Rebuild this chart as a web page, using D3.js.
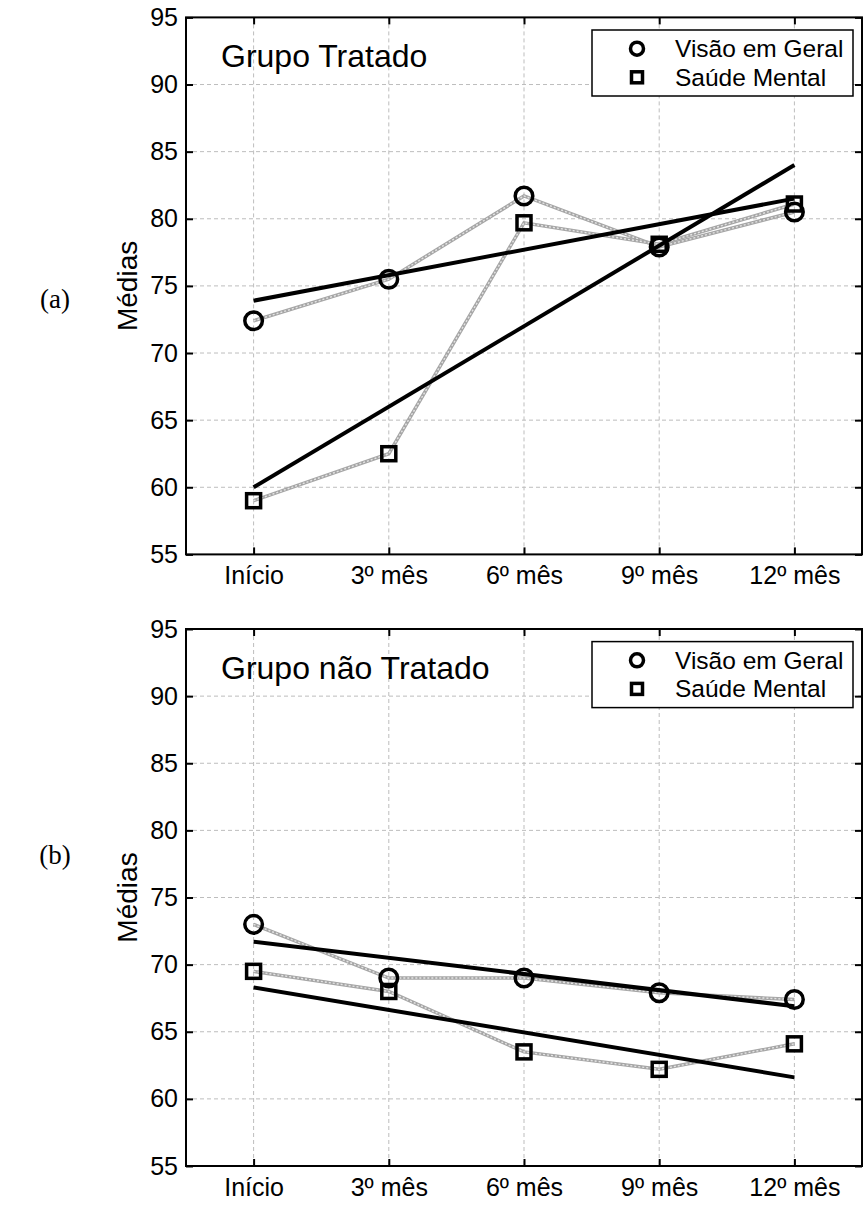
<!DOCTYPE html>
<html>
<head>
<meta charset="utf-8">
<script src="https://cdn.jsdelivr.net/npm/d3@7"></script>
<style>
  body { margin: 0; background: #fff; }
  text { font-family: "Liberation Sans", Arial, sans-serif; fill: #000; }
</style>
</head>
<body>
<svg id="chart" width="867" height="1207"></svg>
<script>
// categorias e ticks
const meses = ["Início", "3º mês", "6º mês", "9º mês", "12º mês"];
const yTicks = [55, 60, 65, 70, 75, 80, 85, 90, 95];
const seriesNames = ["Visão em Geral", "Saúde Mental"];

// médias
const visaoTratado = [72.4, 75.5, 81.7, 77.9, 80.5];
const saudeTratado = [59.0, 62.5, 79.7, 78.1, 81.1];
const visaoNaoTratado = [73.0, 69.0, 69.0, 67.9, 67.4];
const saudeNaoTratado = [69.5, 68.0, 63.5, 62.2, 64.1];

// retas de tendência: valor no Início e no 12º mês
const tendVisaoTratado = [73.9, 81.5];
const tendSaudeTratado = [60.0, 84.0];
const tendVisaoNaoTratado = [71.7, 66.9];
const tendSaudeNaoTratado = [68.3, 61.6];

const panels = [
  { top: 17.4, title: "Grupo Tratado", tag: "(a)", tagY: 299,
    visao: visaoTratado, saude: saudeTratado, tv: tendVisaoTratado, ts: tendSaudeTratado },
  { top: 629, title: "Grupo não Tratado", tag: "(b)", tagY: 855,
    visao: visaoNaoTratado, saude: saudeNaoTratado, tv: tendVisaoNaoTratado, ts: tendSaudeNaoTratado }
];

const svg = d3.select("#chart");
const left = 186, right = 862, h = 537;

const x = d3.scalePoint().domain(meses).range([left, right]).padding(0.5);

function square(g, cx, cy, s) {
  g.append("rect").attr("x", cx - s / 2).attr("y", cy - s / 2)
    .attr("width", s).attr("height", s)
    .attr("fill", "none").attr("stroke", "#000").attr("stroke-width", 3.5);
}
function circle(g, cx, cy, r) {
  g.append("circle").attr("cx", cx).attr("cy", cy).attr("r", r)
    .attr("fill", "none").attr("stroke", "#000").attr("stroke-width", 3.5);
}

panels.forEach(p => {
  const y = d3.scaleLinear().domain([55, 95]).range([p.top + h, p.top]);
  const g = svg.append("g");

  // grade
  g.selectAll(".gy").data(yTicks.slice(1, -1)).enter().append("line")
    .attr("x1", left).attr("x2", right).attr("y1", d => y(d)).attr("y2", d => y(d))
    .attr("stroke", "#bdbdbd").attr("stroke-dasharray", "4,3");
  g.selectAll(".gx").data(meses).enter().append("line")
    .attr("x1", d => x(d)).attr("x2", d => x(d)).attr("y1", p.top).attr("y2", p.top + h)
    .attr("stroke", "#bdbdbd").attr("stroke-dasharray", "4,3");

  // eixos
  const ax = g.append("g").attr("transform", `translate(0,${p.top + h})`)
    .call(d3.axisBottom(x).tickSizeInner(-7).tickSizeOuter(0).tickPadding(12));
  const ay = g.append("g").attr("transform", `translate(${left},0)`)
    .call(d3.axisLeft(y).tickValues(yTicks).tickSizeInner(-7).tickSizeOuter(0).tickPadding(8));
  g.append("g").attr("transform", `translate(0,${p.top})`)
    .call(d3.axisTop(x).tickSizeInner(-7).tickSizeOuter(0).tickFormat(""));
  g.append("g").attr("transform", `translate(${right},0)`)
    .call(d3.axisRight(y).tickValues(yTicks).tickSizeInner(-7).tickSizeOuter(0).tickFormat(""));
  g.selectAll(".domain").remove();
  g.selectAll(".tick line").attr("stroke", "#000").attr("stroke-width", 2);
  ax.selectAll("text").attr("font-size", 25).attr("font-family", "Liberation Sans, Arial, sans-serif");
  ay.selectAll("text").attr("font-size", 25).attr("font-family", "Liberation Sans, Arial, sans-serif");

  g.append("rect").attr("x", left).attr("y", p.top).attr("width", right - left).attr("height", h)
    .attr("fill", "none").attr("stroke", "#000").attr("stroke-width", 2);

  // linhas cinzas ligando as médias
  const line = d3.line().x((d, i) => x(meses[i])).y(d => y(d));
  [p.visao, p.saude].forEach(s => {
    g.append("path").attr("d", line(s)).attr("fill", "none")
      .attr("stroke", "#a6a6a6").attr("stroke-width", 3.5);
    g.append("path").attr("d", line(s)).attr("fill", "none")
      .attr("stroke", "#e4e4e4").attr("stroke-width", 1.4).attr("stroke-dasharray", "2,2");
  });

  // retas de tendência
  [p.tv, p.ts].forEach(t => {
    g.append("line")
      .attr("x1", x(meses[0])).attr("y1", y(t[0]))
      .attr("x2", x(meses[meses.length - 1])).attr("y2", y(t[1]))
      .attr("stroke", "#000").attr("stroke-width", 4);
  });

  // marcadores
  p.visao.forEach((v, i) => circle(g, x(meses[i]), y(v), 8.8));
  p.saude.forEach((v, i) => square(g, x(meses[i]), y(v), 14));

  // título
  g.append("text").attr("x", 221).attr("y", p.top + 50)
    .attr("font-size", 32).text(p.title);

  // legenda
  const lg = g.append("g").attr("transform", `translate(592,${p.top + 12.6})`);
  lg.append("rect").attr("width", 261).attr("height", 66)
    .attr("fill", "#fff").attr("stroke", "#000").attr("stroke-width", 1.5);
  circle(lg, 45, 18.7, 6.5);
  square(lg, 45, 47.3, 11);
  lg.selectAll("text").data(seriesNames).enter().append("text")
    .attr("x", 83).attr("y", (d, i) => 27 + i * 28.6)
    .attr("font-size", 24.5).text(d => d);

  // rótulo do eixo y
  g.append("text").attr("transform", `translate(137,${p.top + h / 2}) rotate(-90)`)
    .attr("text-anchor", "middle").attr("font-size", 28).text("Médias");

  g.append("text").attr("x", 55).attr("y", p.tagY + 9).attr("text-anchor", "middle")
    .style("font-family", "'Liberation Serif', 'Times New Roman', serif")
    .attr("font-size", 27).text(p.tag);
});
</script>
</body>
</html>
